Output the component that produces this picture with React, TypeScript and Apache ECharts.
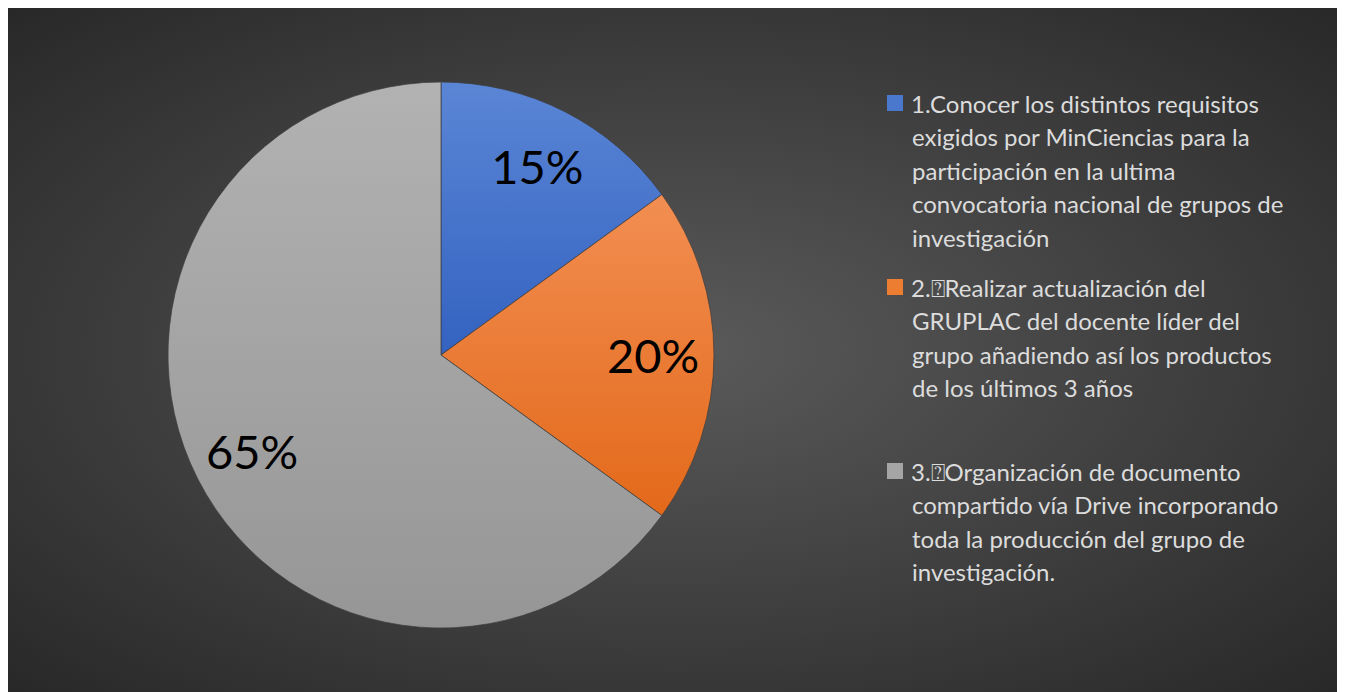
import React, { useEffect, useRef } from "react";
import * as echarts from "echarts";

const categories: string[] = [
  "1.Conocer los distintos requisitos\nexigidos por MinCiencias para la\nparticipación en la ultima\nconvocatoria nacional de grupos de\ninvestigación",
  "2.⍰Realizar actualización del\nGRUPLAC del docente líder del\ngrupo añadiendo así los productos\nde los últimos 3 años\n",
  "3.⍰Organización de documento\ncompartido vía Drive incorporando\ntoda la producción del grupo de\ninvestigación.",
];
const values: number[] = [15, 20, 65];
const topColors: string[] = ["#5b86d6", "#f28e52", "#b2b2b2"];
const bottomColors: string[] = ["#3362c0", "#e3691a", "#969696"];
const boxColors: string[] = ["#4a78cc", "#ed7d31", "#a5a5a5"];

const FONT = "Lato";

export default function App() {
  const ref = useRef<HTMLDivElement>(null);
  useEffect(() => {
    if (!ref.current) return;
    const chart = echarts.init(ref.current, undefined, { renderer: "svg" });
    const R = 273;
    const LH = 33.5;
    const rich: any = {
      sp: { width: 17, lineHeight: LH, fontSize: 24 },
      t: { fontSize: 24, lineHeight: LH, color: "#dcdcdc", fontFamily: FONT, padding: [0, 0, 0, 8] },
    };
    boxColors.forEach((c, i) => {
      rich["box" + i] = { width: 16, height: 16, backgroundColor: c, lineHeight: LH };
    });
    const pieData = categories.map((name, i) => ({
      name,
      value: values[i],
      itemStyle: {
        color: new echarts.graphic.LinearGradient(0, 0, 0, 1, [
          { offset: 0, color: topColors[i] },
          { offset: 1, color: bottomColors[i] },
        ]),
      },
    }));
    chart.setOption({
      animation: false,
      backgroundColor: {
        type: "radial",
        x: 0.5,
        y: 0.5,
        r: 0.75,
        colorStops: [
          { offset: 0, color: "#5a5a5a" },
          { offset: 1, color: "#252525" },
        ],
      },
      legend: {
        orient: "vertical",
        left: 868,
        top: 78,
        itemWidth: 0,
        itemHeight: 0,
        itemGap: 26,
        icon: "rect",
        selectedMode: false,
        data: categories,
        formatter: (name: string) => {
          const idx = categories.indexOf(name);
          const lines = name.split("\n");
          return lines
            .map((ln, k) => (k === 0 ? `{box${idx}| }{t|${ln}}` : `{sp| }{t|${ln || " "}}`))
            .join("\n");
        },
        textStyle: { color: "#dcdcdc", fontFamily: FONT, fontSize: 24, rich },
      },
      series: [
        {
          type: "pie",
          center: [433, 347],
          radius: [0, R],
          startAngle: 90,
          clockwise: true,
          silent: true,
          label: { show: false },
          labelLine: { show: false },
          itemStyle: { borderColor: "rgba(60,60,60,0.7)", borderWidth: 1 },
          data: pieData,
        },
        {
          type: "pie",
          center: [433, 347],
          radius: [Math.round(R * 0.53), R],
          startAngle: 90,
          clockwise: true,
          silent: true,
          itemStyle: { color: "rgba(0,0,0,0)" },
          label: {
            show: true,
            position: "inside",
            formatter: "{c}%",
            fontSize: 47,
            color: "#000000",
            fontFamily: FONT,
          },
          labelLine: { show: false },
          data: categories.map((name, i) => ({ name, value: values[i] })),
        },
      ],
    });
    return () => chart.dispose();
  }, []);
  return <div ref={ref} style={{ width: 1337, height: 684 }} />;
}
